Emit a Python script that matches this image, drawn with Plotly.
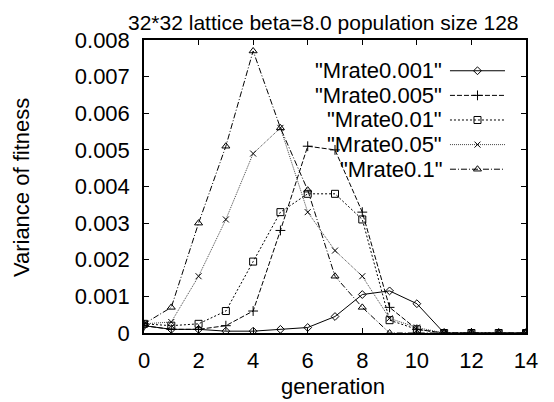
import plotly.graph_objects as go

generation = list(range(15))

mrate_0001 = [0.0002, 0.0001, 0.0001, 0.00005, 0.00005, 0.0001, 0.00015, 0.00045,
              0.00105, 0.00115, 0.0008, 0, 0, 0, 0]
mrate_0005 = [0.0002, 0.0001, 0.0001, 0.0002, 0.0006, 0.0028, 0.0051, 0.005,
              0.0033, 0.0007, 0.0001, 0, 0, 0, 0]
mrate_001 = [0.00025, 0.0002, 0.00025, 0.0006, 0.00195, 0.0033, 0.0038, 0.0038,
             0.0031, 0.00035, 0.0001, 0, 0, 0, 0]
mrate_005 = [0.00025, 0.0003, 0.00155, 0.0031, 0.0049, 0.0056, 0.0033, 0.00225,
             0.00155, 0.0004, 0.00015, 0, 0, 0, 0]
mrate_01 = [0.00025, 0.0007, 0.003, 0.0051, 0.0077, 0.0056, 0.0039, 0.00155,
            0.0007, 0, 0, 0, 0, 0, 0]

nomes = ['"Mrate0.001"', '"Mrate0.005"', '"Mrate0.01"', '"Mrate0.05"', '"Mrate0.1"']
x_ticks = [0, 2, 4, 6, 8, 10, 12, 14]
y_ticks = [0, 0.001, 0.002, 0.003, 0.004, 0.005, 0.006, 0.007, 0.008]
y_tick_text = ['0', '0.001', '0.002', '0.003', '0.004', '0.005', '0.006', '0.007', '0.008']

series = [mrate_0001, mrate_0005, mrate_001, mrate_005, mrate_01]
estilos = [
    dict(dash='solid', symbol='diamond-open', color='black', size=6),
    dict(dash='5px,2px', symbol='cross-thin-open', color='black', size=7),
    dict(dash='2px,2px', symbol='square-open', color='black', size=7),
    dict(dash='1px,1px', symbol='x-thin-open', color='#444444', size=6),
    dict(dash='6px,2px,1px,2px', symbol='triangle-up-open', color='black', size=7),
]

fonte = dict(family='Liberation Sans, Arial, sans-serif', size=22, color='black')

data = []
for vals, nome, st in zip(series, nomes, estilos):
    data.append(go.Scatter(x=generation, y=vals, name=nome,
                           mode='lines+markers',
                           line=dict(color=st['color'], width=1, dash=st['dash']),
                           marker=dict(symbol=st['symbol'], size=st['size'],
                                       color='black', line=dict(width=1, color='black')),
                           showlegend=False))

# legenda no estilo gnuplot: texto a esquerda, amostra a direita
leg_y = [0.895, 0.811, 0.727, 0.643, 0.559]
annots = []
for nome, st, ly in zip(nomes, estilos, leg_y):
    data.append(go.Scatter(x=[0.801, 0.945], y=[ly, ly], xaxis='x2', yaxis='y2',
                           mode='lines', line=dict(color=st['color'], width=1, dash=st['dash']),
                           hoverinfo='skip', showlegend=False))
    data.append(go.Scatter(x=[0.873], y=[ly], xaxis='x2', yaxis='y2', mode='markers',
                           marker=dict(symbol=st['symbol'], size=st['size'],
                                       color='black', line=dict(width=1, color='black')),
                           hoverinfo='skip', showlegend=False))
    annots.append(dict(text=nome, x=0.785, y=ly, xref='paper', yref='paper',
                       xanchor='right', yanchor='middle', showarrow=False, font=fonte))

annots.append(dict(text='generation', x=0.495, y=-0.184, xref='paper', yref='paper',
                   xanchor='center', yanchor='middle', showarrow=False, font=fonte))
annots.append(dict(text='Variance of fitness', x=-0.319, y=0.495, xref='paper', yref='paper',
                   xanchor='center', yanchor='middle', textangle=-90, showarrow=False, font=fonte))
annots.append(dict(text='32*32 lattice beta=8.0 population size 128', x=0.471, y=1.107,
                   xref='paper', yref='paper', xanchor='center', yanchor='top',
                   showarrow=False, font=dict(fonte, size=21)))

fig = go.Figure(data)
fig.update_layout(width=546, height=394,
                  margin=dict(l=136, r=28, t=32, b=69),
                  paper_bgcolor='white', plot_bgcolor='white',
                  font=fonte,
                  annotations=annots,
                  xaxis=dict(range=[0, 14], tickvals=x_ticks, ticks='inside', ticklen=5,
                             ticklabelstandoff=7,
                             showline=True, linecolor='black', linewidth=1.5, mirror='ticks',
                             showgrid=False, zeroline=False, tickcolor='black'),
                  yaxis=dict(range=[0, 0.008], tickvals=y_ticks, ticktext=y_tick_text,
                             ticks='inside', ticklen=5, ticklabelstandoff=8,
                             showline=True, linecolor='black', linewidth=1.5, mirror='ticks',
                             showgrid=False, zeroline=False, tickcolor='black'),
                  xaxis2=dict(range=[0, 1], overlaying='x', visible=False),
                  yaxis2=dict(range=[0, 1], overlaying='y', visible=False))

fig.write_html("out.html")
